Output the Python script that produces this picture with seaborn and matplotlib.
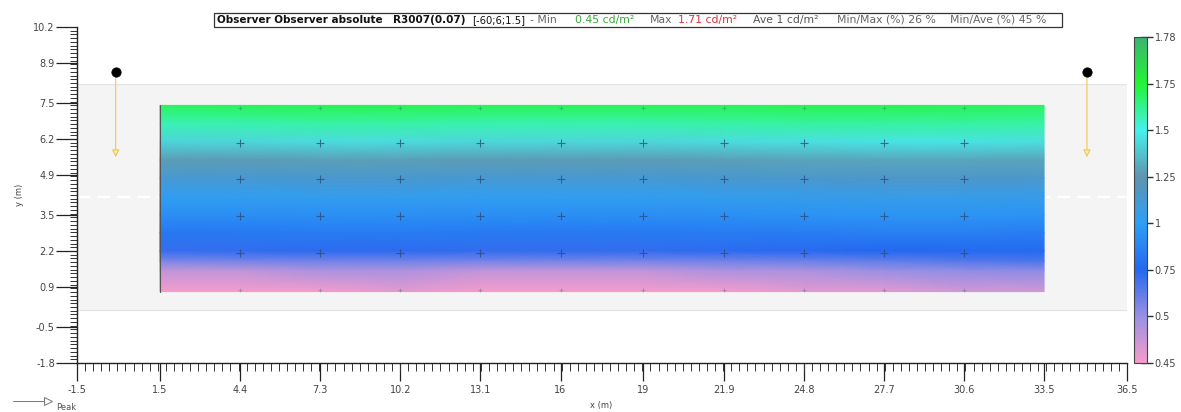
import numpy as np
import pandas as pd
import matplotlib
matplotlib.use("Agg")
import matplotlib.pyplot as plt
import seaborn as sns
from matplotlib.colors import LinearSegmentedColormap, FuncNorm
from matplotlib.ticker import FixedLocator
from matplotlib.patches import Rectangle
from matplotlib.lines import Line2D

sns.set_theme(style="white")
plt.rcParams["font.family"] = ["DejaVu Sans"]

# ---------------- data ----------------
x_ticks = [-1.5, 1.5, 4.4, 7.3, 10.2, 13.1, 16, 19, 21.9, 24.8, 27.7, 30.6, 33.5, 36.5]
x_tick_labels = ["-1.5", "1.5", "4.4", "7.3", "10.2", "13.1", "16", "19", "21.9",
                 "24.8", "27.7", "30.6", "33.5", "36.5"]
y_ticks = [-1.8, -0.5, 0.9, 2.2, 3.5, 4.9, 6.2, 7.5, 8.9, 10.2]
y_tick_labels = ["-1.8", "-0.5", "0.9", "2.2", "3.5", "4.9", "6.2", "7.5", "8.9", "10.2"]

cbar_bounds = [0.45, 0.5, 0.75, 1.0, 1.25, 1.5, 1.75, 1.78]
cbar_labels = ["0.45", "0.5", "0.75", "1", "1.25", "1.5", "1.75", "1.78"]
cbar_colors = ["#f59ccb", "#9890e4", "#2468f0", "#2e9ef5", "#5e94b0",
               "#46f0ec", "#22f535", "#3cb371"]

grid_x = [1.5, 4.4, 7.3, 10.2, 13.1, 16, 19, 21.9, 24.8, 27.7, 30.6, 33.5]
grid_y = [7.4, 6.75, 6.1, 5.45, 4.8, 4.15, 3.5, 2.85, 2.2, 1.85, 1.5, 0.75]
lum_7_40 = [1.69, 1.70, 1.71, 1.71, 1.70, 1.70, 1.70, 1.70, 1.71, 1.71, 1.70, 1.69]
lum_6_75 = [1.57, 1.58, 1.59, 1.59, 1.58, 1.58, 1.58, 1.59, 1.60, 1.60, 1.60, 1.59]
lum_6_10 = [1.42, 1.43, 1.44, 1.44, 1.43, 1.43, 1.43, 1.44, 1.45, 1.46, 1.46, 1.45]
lum_5_45 = [1.27, 1.27, 1.28, 1.28, 1.27, 1.27, 1.27, 1.28, 1.29, 1.30, 1.30, 1.29]
lum_4_80 = [1.13, 1.13, 1.14, 1.14, 1.13, 1.13, 1.13, 1.14, 1.15, 1.16, 1.16, 1.15]
lum_4_15 = [1.02, 1.02, 1.03, 1.03, 1.02, 1.02, 1.02, 1.03, 1.04, 1.05, 1.05, 1.04]
lum_3_50 = [0.93, 0.93, 0.94, 0.94, 0.93, 0.93, 0.93, 0.94, 0.95, 0.96, 0.96, 0.95]
lum_2_85 = [0.82, 0.83, 0.84, 0.84, 0.83, 0.83, 0.83, 0.84, 0.85, 0.86, 0.86, 0.85]
lum_2_20 = [0.71, 0.72, 0.73, 0.73, 0.72, 0.72, 0.72, 0.73, 0.74, 0.75, 0.76, 0.76]
lum_1_85 = [0.57, 0.58, 0.59, 0.59, 0.58, 0.58, 0.58, 0.59, 0.60, 0.62, 0.65, 0.67]
lum_1_50 = [0.48, 0.48, 0.49, 0.49, 0.48, 0.48, 0.48, 0.49, 0.49, 0.50, 0.52, 0.53]
lum_0_75 = [0.45, 0.45, 0.45, 0.46, 0.45, 0.45, 0.45, 0.45, 0.46, 0.46, 0.47, 0.47]

calc_x = [4.4, 7.3, 10.2, 13.1, 16, 19, 21.9, 24.8, 27.7, 30.6]
calc_y = [6.05, 4.77, 3.45, 2.13]
edge_y = [7.3, 0.8]

lamp_x = [-0.1, 35.05]
lamp_y = [8.6, 8.6]
aim_y = 5.55

road_bottom, road_top = 0.1, 8.15
centre_line_y = 4.13

# ---------------- figure ----------------
W, H = 1181, 412
fig = plt.figure(figsize=(W / 100, H / 100), dpi=100)
fig.patch.set_facecolor("white")


def fx(px):
    return px / W


def fy(py):
    return 1 - py / H


ax = fig.add_axes([fx(77), fy(363), (1127 - 77) / W, (363 - 27) / H])
ax.set_facecolor("white")
ax.set_xlim(-1.5, 36.5)
ax.set_ylim(-1.8, 10.2)

# road band
ax.axhspan(road_bottom, road_top, color="#f4f4f4", zorder=0, lw=0)
ax.axhline(road_top, color="#e2e2e2", lw=0.8, zorder=0.5)
ax.axhline(road_bottom, color="#e2e2e2", lw=0.8, zorder=0.5)
ax.axhline(centre_line_y, color="white", lw=1.6, ls=(0, (6, 3)), zorder=0.6)

# colormap and piecewise norm
nodes = np.linspace(0, 1, len(cbar_bounds))
cmap = LinearSegmentedColormap.from_list("lux", list(zip(nodes, cbar_colors)))


def _fwd(v):
    return np.interp(v, cbar_bounds, nodes)


def _inv(t):
    return np.interp(t, nodes, cbar_bounds)


norm = FuncNorm((_fwd, _inv), vmin=cbar_bounds[0], vmax=cbar_bounds[-1])

Z = np.array([lum_7_40, lum_6_75, lum_6_10, lum_5_45, lum_4_80, lum_4_15,
              lum_3_50, lum_2_85, lum_2_20, lum_1_85, lum_1_50, lum_0_75])
X, Y = np.meshgrid(grid_x, grid_y)
mesh = ax.pcolormesh(X, Y, Z, cmap=cmap, norm=norm, shading="gouraud", zorder=1)
ax.plot([grid_x[0], grid_x[0]], [grid_y[-1], grid_y[0]], color="#555555", lw=0.8, zorder=2)

# calculation grid crosses
pts = pd.DataFrame([(x, y) for y in calc_y for x in calc_x], columns=["x", "y"])
sns.scatterplot(data=pts, x="x", y="y", marker="+", s=40, color="#2a4a78",
                alpha=0.75, linewidth=0.8, ax=ax, zorder=3, legend=False)
pts_e = pd.DataFrame([(x, y) for y in edge_y for x in calc_x], columns=["x", "y"])
sns.scatterplot(data=pts_e, x="x", y="y", marker="+", s=12, color="#2a4a78",
                alpha=0.35, linewidth=0.6, ax=ax, zorder=3, legend=False)

# luminaires and aiming arrows
for lx, ly in zip(lamp_x, lamp_y):
    ax.annotate("", xy=(lx, aim_y), xytext=(lx, ly),
                arrowprops=dict(arrowstyle="-|>", color="#f0c850", fc="#fbeaa8",
                                lw=0.8, mutation_scale=11, shrinkA=0, shrinkB=0),
                zorder=3)
lamps = pd.DataFrame({"x": lamp_x, "y": lamp_y})
sns.scatterplot(data=lamps, x="x", y="y", color="black", s=45, edgecolor="black",
                ax=ax, zorder=4, legend=False)

# axes styling
for s in ["top", "right"]:
    ax.spines[s].set_visible(False)
for s in ["left", "bottom"]:
    ax.spines[s].set_color("#222222")
    ax.spines[s].set_linewidth(1.0)

ax.set_xticks(x_ticks)
ax.set_xticklabels(x_tick_labels)
ax.set_yticks(y_ticks)
ax.set_yticklabels(y_tick_labels)
ax.xaxis.set_minor_locator(FixedLocator(np.linspace(-1.5, 36.5, 131)))
ax.yaxis.set_minor_locator(FixedLocator(np.linspace(-1.8, 10.2, 91)))
ax.tick_params(axis="x", which="major", direction="out", length=13, width=0.9,
               color="#222222", labelsize=7, labelcolor="#444444", pad=3, bottom=True)
ax.tick_params(axis="x", which="minor", direction="out", length=6, width=0.7,
               color="#333333", bottom=True)
ax.tick_params(axis="y", which="major", direction="out", length=15, width=0.9,
               color="#222222", labelsize=7, labelcolor="#444444", pad=1, left=True)
ax.tick_params(axis="y", which="minor", direction="out", length=5, width=0.7,
               color="#333333", left=True)
ax.set_xlabel("x (m)", fontsize=6, color="#444444")
ax.set_ylabel("y (m)", fontsize=6, color="#444444")
ax.xaxis.set_label_coords(0.499, -0.112)
ax.yaxis.set_label_coords(-0.05, 0.5)
ax.grid(False)

# colorbar
cax = fig.add_axes([fx(1134), fy(363), 13 / W, (363 - 37) / H])
cb = fig.colorbar(mesh, cax=cax)
cb.set_ticks(cbar_bounds, labels=cbar_labels)
cb.ax.tick_params(direction="inout", length=9, width=1.0, color="#1d3b2a",
                  labelsize=7, labelcolor="#444444", pad=1)
cb.ax.minorticks_off()
cb.outline.set_edgecolor("#444444")
cb.outline.set_linewidth(0.8)

# title box with coloured segments
ty = fy(20)
segments = [
    (217, "Observer Observer absolute", "#111111", "bold", 7.5),
    (393, "R3007(0.07)", "#111111", "bold", 7.5),
    (472, "[-60;6;1.5]", "#111111", "normal", 7.2),
    (530, "- Min", "#666666", "normal", 7.8),
    (575, "0.45 cd/m\u00b2", "#3aa63a", "normal", 7.8),
    (650, "Max", "#666666", "normal", 7.8),
    (678, "1.71 cd/m\u00b2", "#e0303a", "normal", 7.8),
    (753, "Ave 1 cd/m\u00b2", "#555555", "normal", 7.8),
    (837, "Min/Max (%) 26 %", "#666666", "normal", 7.8),
    (950, "Min/Ave (%) 45 %", "#666666", "normal", 7.8),
]
for px, txt, col, wt, fs in segments:
    fig.text(fx(px), ty, txt, color=col, fontsize=fs, fontweight=wt,
             ha="left", va="center")
fig.patches.append(Rectangle((fx(214), fy(27)), (1062 - 214) / W, 14 / H,
                             transform=fig.transFigure, fill=False,
                             edgecolor="#333333", lw=0.9))

# peak legend
fig.add_artist(Line2D([fx(13), fx(45)], [fy(401), fy(401)], transform=fig.transFigure,
                      color="#777777", lw=0.7))
fig.add_artist(Line2D([fx(48)], [fy(401)], transform=fig.transFigure, marker=">",
                      markersize=6, mfc="white", mec="#777777", mew=0.7, ls="none"))
fig.text(fx(56), fy(407), "Peak", fontsize=6, color="#555555", ha="left", va="center")

fig.savefig("out.png", dpi=100, facecolor="white")
